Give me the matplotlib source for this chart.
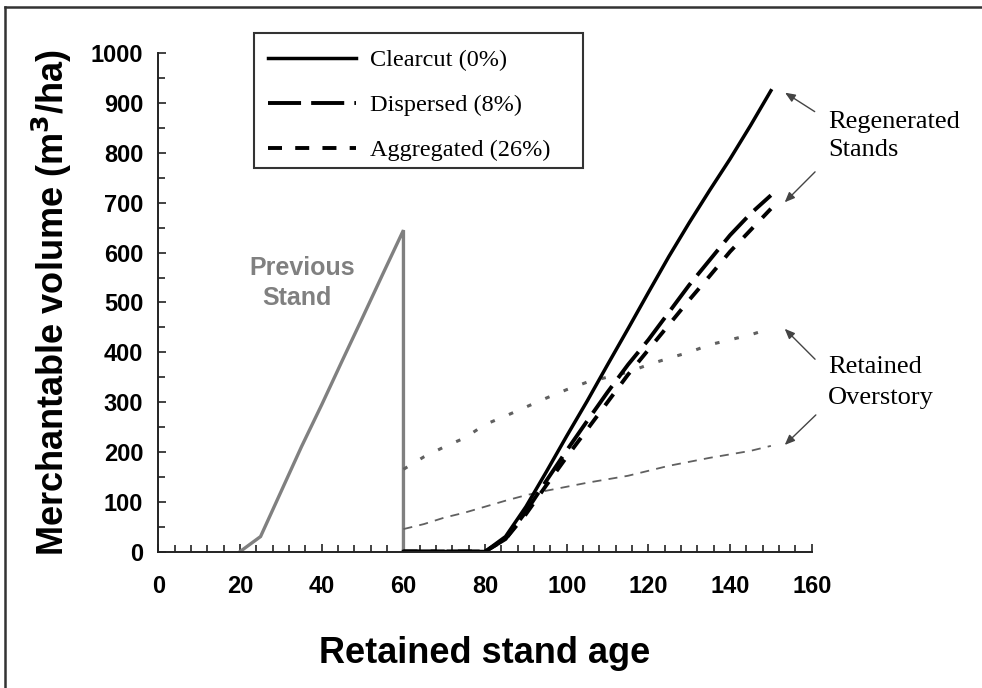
import numpy as np
import matplotlib
matplotlib.use("Agg")
import matplotlib.pyplot as plt
from matplotlib.lines import Line2D
from matplotlib.patches import Rectangle
from matplotlib.ticker import MultipleLocator

# previous stand (grown, then harvested at age 60)
prev_age = [20, 25, 30, 35, 40, 45, 50, 55, 60, 60]
prev_vol = [0, 30, 120, 210, 295, 383, 470, 558, 645, 0]

# regenerated stands
regen_age = [60, 65, 70, 75, 80, 85, 90, 95, 100, 105, 110, 115, 120, 125, 130, 135, 140, 145, 150]
clearcut = [0, 0, 0, 0, 0, 30, 90, 160, 232, 302, 375, 447, 520, 592, 660, 725, 788, 855, 925]
dispersed = [0, 0, 0, 0, 0, 25, 80, 142, 203, 262, 320, 375, 425, 480, 535, 585, 635, 678, 715]
aggregated = [0, 0, 0, 0, 0, 25, 75, 133, 190, 245, 300, 355, 405, 455, 505, 553, 602, 645, 688]

# retained overstory
over_age = [60, 65, 70, 75, 80, 85, 90, 95, 100, 105, 110, 115, 120, 125, 130, 135, 140, 145, 150]
over_aggr = [165, 190, 210, 228, 255, 272, 290, 308, 325, 340, 350, 360, 375, 388, 400, 415, 425, 435, 448]
over_disp = [45, 55, 68, 78, 90, 102, 113, 122, 130, 138, 145, 152, 162, 172, 180, 188, 195, 202, 212]

legend_labels = ["Clearcut (0%)", "Dispersed (8%)", "Aggregated (26%)"]

W, H = 982, 688
fig = plt.figure(figsize=(W / 100, H / 100), dpi=100)
ax = fig.add_axes([0.1614, 0.1984, 0.6652, 0.7241])

gray = "#808080"
ax.plot(prev_age, prev_vol, color=gray, lw=2.4, solid_joinstyle="miter")
ax.plot(over_age, over_aggr, color="#606060", lw=2.2, dashes=(1.5, 5))
ax.plot(over_age, over_disp, color="#606060", lw=1.3, dashes=(5, 4))

l1, = ax.plot(regen_age, clearcut, color="black", lw=2.5)
l2, = ax.plot(regen_age, dispersed, color="black", lw=2.8, dashes=(8.5, 2.6))
l3, = ax.plot(regen_age, aggregated, color="black", lw=2.8, dashes=(3.6, 3.4))

ax.set_xlim(0, 160)
ax.set_ylim(0, 1000)
for s in ["top", "right"]:
    ax.spines[s].set_visible(False)
for s in ["left", "bottom"]:
    ax.spines[s].set_color("#222222")
    ax.spines[s].set_linewidth(1.4)

ax.xaxis.set_major_locator(MultipleLocator(20))
ax.xaxis.set_minor_locator(MultipleLocator(4))
ax.yaxis.set_major_locator(MultipleLocator(100))
ax.yaxis.set_minor_locator(MultipleLocator(50))
ax.tick_params(axis="both", which="both", direction="in", color="#222222", width=1.2)
ax.tick_params(axis="both", which="major", length=6)
ax.tick_params(axis="both", which="minor", length=5)
ax.tick_params(axis="x", which="major", pad=17)
ax.tick_params(axis="y", which="major", pad=11)
for lab in ax.get_xticklabels() + ax.get_yticklabels():
    lab.set_fontfamily("Liberation Sans")
    lab.set_fontweight("bold")
    lab.set_fontsize(17)

ax.set_xlabel("Retained stand age", fontfamily="Liberation Sans", fontweight="bold",
              fontsize=26, labelpad=27)
ax.set_ylabel("Merchantable volume (m$^\\mathbf{3}$/ha)", fontfamily="Liberation Sans",
              fontweight="bold", fontsize=26, labelpad=12)

ax.text(35.1, 569, "Previous", color=gray, ha="center", va="center",
        fontfamily="Liberation Sans", fontweight="bold", fontsize=18)
ax.text(33.9, 509, "Stand", color=gray, ha="center", va="center",
        fontfamily="Liberation Sans", fontweight="bold", fontsize=18)

# legend box drawn separately so its size can be set directly
ax.add_patch(Rectangle((254 / W, 1 - 168 / H), 329 / W, 135 / H, transform=fig.transFigure,
                       facecolor="white", edgecolor="#333333", lw=1.5, zorder=4,
                       clip_on=False))
ax.legend([l1, l2, l3], legend_labels, loc="upper left",
          bbox_to_anchor=(268 / W, 1 - 49 / H), bbox_transform=fig.transFigure,
          frameon=False, prop={"family": "Liberation Serif", "size": 17.5},
          handlelength=3.6, handletextpad=0.6, labelspacing=0.95,
          borderpad=0, borderaxespad=0)

serif = {"family": "Liberation Serif", "size": 19}
ax.text(164, 862, "Regenerated", ha="left", va="center", fontdict=serif, clip_on=False)
ax.text(164, 806, "Stands", ha="left", va="center", fontdict=serif, clip_on=False)
ax.text(164, 370, "Retained", ha="left", va="center", fontdict=serif, clip_on=False)
ax.text(164, 308, "Overstory", ha="left", va="center", fontdict=serif, clip_on=False)

arrow = dict(arrowstyle="-|>,head_length=0.6,head_width=0.25", color="#444444", lw=1.0)
for start, end in [((161.3, 880), (152.9, 924)), ((161.3, 766), (152.9, 697)),
                   ((161.3, 382), (152.9, 451)), ((161.5, 278), (152.9, 210))]:
    ax.annotate("", xy=end, xytext=start, arrowprops=arrow, annotation_clip=False)

# frame lines along the top and left edges of the figure
fig.add_artist(Line2D([5 / W, 1], [1 - 7 / H, 1 - 7 / H], color="#333333", lw=1.8,
                      transform=fig.transFigure))
fig.add_artist(Line2D([5 / W, 5 / W], [0, 1 - 7 / H], color="#333333", lw=1.8,
                      transform=fig.transFigure))

fig.savefig("out.png", dpi=100)
